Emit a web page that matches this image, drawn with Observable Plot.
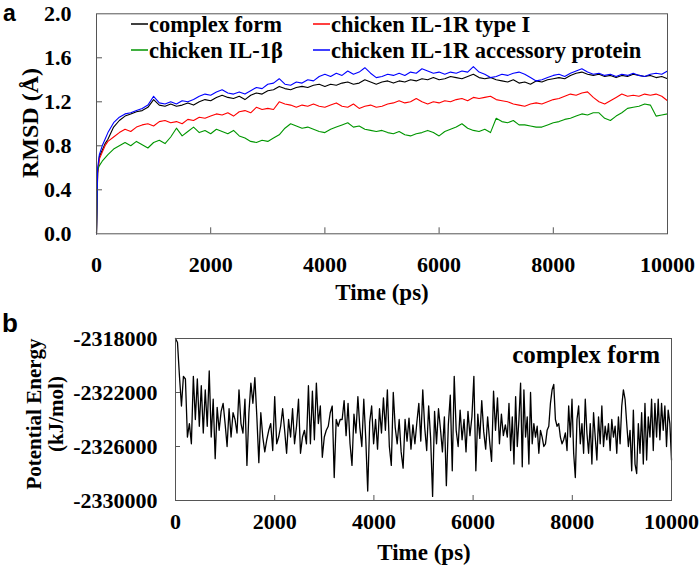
<!DOCTYPE html>
<html><head><meta charset="utf-8">
<script src="https://cdn.jsdelivr.net/npm/d3@7"></script>
<script src="https://cdn.jsdelivr.net/npm/@observablehq/plot@0.6"></script>
<style>
body{margin:0;background:#fff;}
#wrap{position:relative;width:700px;height:572px;overflow:hidden;background:#fff;}
#wrap > svg, #wrap > div{position:absolute;left:0;}
</style></head><body><div id="wrap"></div>
<script>
// ---------- Panel a data ----------
const seriesNames = ["complex form","chicken IL-1R type I","chicken IL-1β","chicken IL-1R accessory protein"];
const seriesColors = ["#000000","#ff0000","#009600","#0000ff"];
const rmsdTime = [0,20,50,100,150,200, ...d3.range(300,10001,100)];
const rmsdComplex = [0,0.55,0.7,0.76,0.82,0.86,
 0.97,1.03,1.07,1.09,1.11,1.12,1.15,1.22,1.17,1.16,
 1.18,1.16,1.17,1.19,1.17,1.2,1.22,1.21,1.24,1.26,
 1.24,1.23,1.25,1.22,1.26,1.28,1.27,1.3,1.31,1.34,
 1.32,1.31,1.33,1.34,1.33,1.35,1.36,1.34,1.36,1.35,
 1.37,1.38,1.36,1.37,1.4,1.38,1.36,1.38,1.39,1.37,
 1.39,1.38,1.4,1.39,1.41,1.4,1.42,1.4,1.41,1.43,
 1.42,1.41,1.43,1.45,1.42,1.41,1.42,1.4,1.39,1.38,
 1.4,1.37,1.38,1.36,1.39,1.38,1.4,1.41,1.42,1.41,
 1.44,1.46,1.47,1.45,1.44,1.45,1.43,1.44,1.42,1.44,
 1.43,1.45,1.44,1.43,1.44,1.42,1.43,1.41];
const rmsdReceptor1 = [0,0.55,0.68,0.74,0.8,0.84,
 0.88,0.92,0.95,0.93,0.97,0.99,1.0,0.98,1.02,1.03,
 1.01,1.02,1.0,1.04,1.03,1.06,1.05,1.07,1.09,1.08,
 1.1,1.07,1.11,1.12,1.1,1.15,1.13,1.14,1.13,1.2,
 1.18,1.17,1.15,1.17,1.16,1.18,1.16,1.15,1.17,1.19,
 1.16,1.15,1.18,1.14,1.16,1.17,1.15,1.16,1.18,1.19,
 1.21,1.19,1.2,1.23,1.2,1.18,1.2,1.19,1.21,1.2,
 1.22,1.23,1.21,1.24,1.23,1.24,1.25,1.22,1.21,1.2,
 1.18,1.17,1.16,1.18,1.19,1.18,1.2,1.22,1.23,1.25,
 1.27,1.26,1.28,1.29,1.24,1.2,1.18,1.21,1.24,1.27,
 1.25,1.26,1.25,1.27,1.26,1.27,1.25,1.21];
const rmsdIL1b = [0,0.58,0.62,0.66,0.69,0.72,
 0.77,0.8,0.83,0.8,0.84,0.81,0.78,0.83,0.85,0.82,
 0.88,0.96,0.89,0.93,0.97,0.92,0.94,0.91,0.95,0.93,
 0.91,0.94,0.89,0.87,0.84,0.83,0.85,0.84,0.87,0.9,
 0.96,1.0,0.98,0.96,0.97,0.95,0.93,0.92,0.95,0.97,
 0.99,1.01,0.97,0.98,0.95,0.94,0.93,0.94,0.92,0.91,
 0.93,0.9,0.89,0.91,0.92,0.94,0.92,0.89,0.93,0.95,
 0.97,1.0,0.96,0.94,0.93,0.95,0.92,1.05,1.02,1.01,
 1.03,0.99,0.99,0.98,0.97,0.97,0.99,1.01,1.02,1.04,
 1.05,1.07,1.09,1.08,1.1,1.1,1.05,1.03,1.07,1.1,
 1.14,1.15,1.16,1.18,1.17,1.07,1.08,1.09];
const rmsdAccessory = [0,0.6,0.72,0.8,0.86,0.92,
 1.01,1.06,1.09,1.1,1.12,1.14,1.17,1.25,1.19,1.18,
 1.2,1.18,1.21,1.2,1.22,1.25,1.27,1.26,1.29,1.31,
 1.28,1.27,1.29,1.27,1.3,1.33,1.32,1.36,1.37,1.41,
 1.36,1.35,1.38,1.37,1.4,1.39,1.43,1.45,1.43,1.46,
 1.44,1.48,1.45,1.47,1.51,1.46,1.42,1.43,1.45,1.44,
 1.46,1.44,1.47,1.46,1.5,1.48,1.46,1.47,1.45,1.47,
 1.46,1.48,1.47,1.52,1.47,1.45,1.42,1.43,1.45,1.44,
 1.46,1.47,1.45,1.42,1.39,1.4,1.42,1.44,1.45,1.43,
 1.46,1.48,1.5,1.47,1.45,1.46,1.44,1.45,1.43,1.45,
 1.44,1.46,1.44,1.43,1.45,1.46,1.45,1.48];
const rmsdXTicks = [0,2000,4000,6000,8000,10000];
const rmsdYTicks = [0,0.4,0.8,1.2,1.6,2.0];

// ---------- Panel b data (potential energy, kJ/mol) ----------
const energySpanA = [0,3320];
const energyA = [-2318000,-2318300,-2320800,-2323000,-2320800,-2321000,-2325300,-2324300,-2325800,-2320800,
 -2324000,-2321000,-2324500,-2321500,-2325000,-2321800,-2324500,-2320400,-2325300,-2322500,
 -2326900,-2323100,-2324800,-2323400,-2322800,-2324300,-2326000,-2323200,-2325300,-2323500,
 -2324000,-2325000,-2321800,-2324300,-2325000,-2322500,-2327400,-2323500,-2321300,-2322800,
 -2320900,-2323800,-2327200,-2323500,-2325300,-2326400,-2325500,-2324800,-2324300,-2326300,
 -2322300,-2325800,-2325300,-2324500,-2323200,-2324800,-2326500,-2324000,-2325300,-2323200,
 -2325800,-2324500,-2322500,-2326500,-2325300,-2324800,-2325800,-2321500,-2325800,-2321900,
 -2325500,-2321300,-2324300,-2323000,-2326800,-2325300,-2324800,-2324500,-2323500,-2323000,
 -2328300,-2324000,-2324500,-2324000];
const energySpanB = [3360,6650];
const energyB = [-2324000,-2322600,-2325200,-2322800,-2325800,-2327400,-2323600,-2325000,-2322300,-2324600,
 -2326000,-2322500,-2325400,-2329300,-2324200,-2323000,-2325800,-2324000,-2326200,-2323200,
 -2325000,-2322400,-2324800,-2321800,-2326000,-2327400,-2322000,-2324600,-2325800,-2324000,
 -2326400,-2327600,-2324000,-2325600,-2323900,-2326200,-2324400,-2325800,-2324200,-2322800,
 -2325600,-2321800,-2324600,-2326300,-2323000,-2325400,-2329700,-2323400,-2325800,-2323200,
 -2324700,-2326400,-2323800,-2328900,-2324400,-2322200,-2327800,-2320800,-2324800,-2326000,
 -2323300,-2325500,-2324000,-2326400,-2323400,-2325200,-2323800,-2320800,-2327800,-2323600,
 -2325400,-2322600,-2324900,-2326200,-2323800,-2325600,-2327100,-2321900,-2324800,-2322400,
 -2325800,-2323600,-2325200,-2324400];
const energySpanC = [6690,10000];
const energyC = [-2325300,-2322800,-2326300,-2323800,-2327300,-2322300,-2326000,-2324000,-2321300,-2327500,
 -2321800,-2325300,-2323800,-2327300,-2322000,-2325800,-2324300,-2325300,-2324500,-2326500,
 -2324800,-2325300,-2326000,-2325800,-2324800,-2324500,-2322800,-2321800,-2321400,-2324000,
 -2324500,-2324300,-2325300,-2325800,-2325500,-2325000,-2326300,-2323000,-2325300,-2322500,
 -2326500,-2328300,-2324000,-2323000,-2325800,-2324300,-2326500,-2322500,-2325000,-2326500,
 -2324300,-2327300,-2323500,-2325300,-2327000,-2323800,-2325800,-2323000,-2326000,-2324500,
 -2325500,-2324300,-2326300,-2324000,-2325300,-2324500,-2326500,-2323800,-2325800,-2323000,
 -2321800,-2322500,-2324300,-2326000,-2324800,-2327800,-2323300,-2327300,-2328000,-2324300,
 -2326500,-2323500,-2327300,-2322800,-2327000,-2323800,-2325300,-2322500,-2326300,-2322800,
 -2325300,-2322500,-2325500,-2322800,-2324800,-2323000,-2326000,-2323300,-2324300,-2327000];
const energyXTicks = [0,2000,4000,6000,8000,10000];
const energyYTicks = [-2330000,-2326000,-2322000,-2318000];

// ---------- build rows ----------
const rmsdSeries = [rmsdComplex, rmsdReceptor1, rmsdIL1b, rmsdAccessory];
const rmsdRows = [];
seriesNames.forEach((name,k)=>rmsdTime.forEach((t,i)=>rmsdRows.push({series:name,t,v:rmsdSeries[k][i]})));
const energyRows = [];
[[energySpanA,energyA],[energySpanB,energyB],[energySpanC,energyC]].forEach(([span,vals])=>{
  vals.forEach((v,i)=>energyRows.push({t: span[0] + i*(span[1]-span[0])/(vals.length-1), v}));
});

const serif = '"Liberation Serif","Times New Roman",serif';
const baseStyle = {fontFamily: serif, fontWeight: "bold", fontSize: "22px", color: "#000", background: "transparent", overflow: "visible"};
const inner = d => d > 0 && d < 10000;

// ---------- Panel a ----------
const W = 700;
const aTop = 13.3, aBottom = 233.3, aLeft = 96, aRight = 667;
const aH = 300;
const plotA = Plot.plot({
  width: W, height: aH,
  marginTop: aTop, marginBottom: aH - aBottom, marginLeft: aLeft, marginRight: W - aRight,
  x: {domain: [0,10000]},
  y: {domain: [0,2]},
  color: {domain: seriesNames, range: seriesColors},
  style: baseStyle,
  marks: [
    Plot.line(rmsdRows, {x: "t", y: "v", stroke: "series", strokeWidth: 1.1}),
    Plot.frame({stroke: "#555"}),
    Plot.tickX(rmsdXTicks.filter(inner), {x: d => d, insetTop: (aBottom - aTop) - 6, stroke: "#555"}),
    Plot.tickY(rmsdYTicks.filter(d => d > 0 && d < 2), {y: d => d, insetRight: (aRight - aLeft) - 6, stroke: "#555"}),
    Plot.axisX(rmsdXTicks, {tickSize: 0, tickPadding: 23, tickFormat: d => String(d), label: null}),
    Plot.axisY(rmsdYTicks, {tickSize: 0, tickPadding: 25, tickFormat: d3.format(".1f"), label: null})
  ]
});
plotA.style.top = "0px";

// ---------- Panel b ----------
const bSvgTop = 305;
const bTop = 338, bBottom = 500, bLeft = 175, bRight = 671;
const bH = 572 - bSvgTop;
const plotB = Plot.plot({
  width: W, height: bH,
  marginTop: bTop - bSvgTop, marginBottom: 572 - bBottom, marginLeft: bLeft, marginRight: W - bRight,
  x: {domain: [0,10000]},
  y: {domain: [-2330000,-2318000]},
  style: baseStyle,
  marks: [
    Plot.line(energyRows, {x: "t", y: "v", stroke: "#000", strokeWidth: 1.3}),
    Plot.frame({stroke: "#555"}),
    Plot.tickX(energyXTicks.filter(inner), {x: d => d, insetTop: (bBottom - bTop) - 5, stroke: "#555"}),
    Plot.tickY(energyYTicks.filter(d => d > -2330000 && d < -2318000), {y: d => d, insetRight: (bRight - bLeft) - 5, stroke: "#555"}),
    Plot.axisX(energyXTicks, {tickSize: 0, tickPadding: 13, tickFormat: d => String(d), label: null}),
    Plot.axisY(energyYTicks, {tickSize: 0, tickPadding: 18, tickFormat: d => String(d), label: null})
  ]
});
plotB.style.top = bSvgTop + "px";

const wrap = document.getElementById("wrap");
wrap.appendChild(plotA);
wrap.appendChild(plotB);

// ---------- Overlay: titles, labels, legend ----------
const ov = d3.select(wrap).append("svg")
  .attr("width", 700).attr("height", 572)
  .style("position","absolute").style("top","0px").style("left","0px")
  .style("font-family", serif).style("font-weight","bold").style("fill","#000");

ov.append("text").text("a").attr("x", 3).attr("y", 21)
  .style("font-family",'"Liberation Sans",Arial,sans-serif').style("font-size","23px");
ov.append("text").text("b").attr("x", 2).attr("y", 332)
  .style("font-family",'"Liberation Sans",Arial,sans-serif').style("font-size","26px");

ov.append("text").text("RMSD (Å)")
  .attr("transform","translate(38,123) rotate(-90)")
  .attr("text-anchor","middle").style("font-size","24px");
ov.append("text").text("Time (ps)").attr("x", 382).attr("y", 300)
  .attr("text-anchor","middle").style("font-size","23px");

ov.append("text").text("Potential Energy")
  .attr("transform","translate(41,414) rotate(-90)")
  .attr("text-anchor","middle").style("font-size","21px");
ov.append("text").text("(kJ/mol)")
  .attr("transform","translate(63,414) rotate(-90)")
  .attr("text-anchor","middle").style("font-size","21px");
ov.append("text").text("Time (ps)").attr("x", 424).attr("y", 560)
  .attr("text-anchor","middle").style("font-size","23px");
ov.append("text").text(seriesNames[0]).attr("x", 660).attr("y", 363)
  .attr("text-anchor","end").style("font-size","25px");

// legend for panel a
const legendCols = [131, 313];
const legendRows = [24, 50];
seriesNames.forEach((name, k) => {
  const col = k % 2 === 0 ? 0 : 1;
  const row = (k === 0 || k === 1) ? 0 : 1;
  const x0 = legendCols[col], yc = legendRows[row];
  ov.append("line").attr("x1", x0).attr("x2", x0 + 17).attr("y1", yc).attr("y2", yc)
    .attr("stroke", seriesColors[k]).attr("stroke-width", 1.5);
  ov.append("text").text(name).attr("x", x0 + 18).attr("y", yc + 7.5)
    .style("font-size","22.5px");
});
</script>
</body></html>
